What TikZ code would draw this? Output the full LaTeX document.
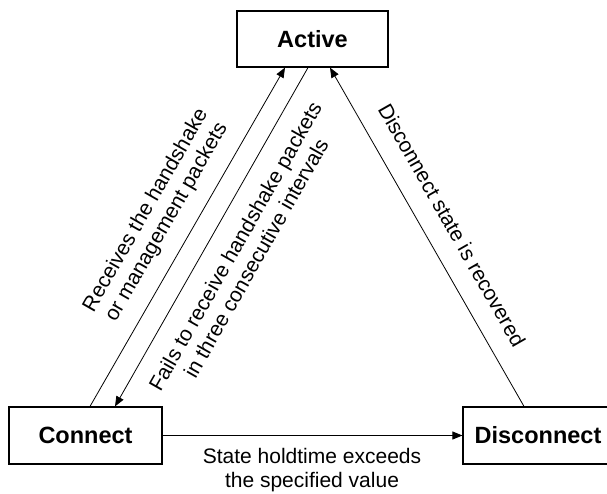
\documentclass[tikz,border=0pt]{standalone}
\usepackage{fontspec}
\setmainfont{Liberation Sans}
\usetikzlibrary{arrows.meta}
\begin{document}
\begin{tikzpicture}[x=1pt,y=-1pt,
  state/.style={draw, line width=1.2pt, inner sep=0pt,
    font=\fontsize{23.5}{28}\selectfont\bfseries},
  trans/.style={line width=0.8pt, -{Triangle[length=10pt,width=8pt]}},
  lbl/.style={align=center, inner sep=0pt, font=\fontsize{21}{24}\selectfont}]
\useasboundingbox (0,0) rectangle (607,493);
\clip (0,0) rectangle (607,493);

% states
\node[state, minimum width=151pt, minimum height=56pt] (active) at (312.5,39) {Active};
\node[state, minimum width=153pt, minimum height=57pt] (connect) at (85.5,435.5) {Connect};
\node[state, minimum width=150pt, minimum height=57pt] (disconnect) at (538,435.5) {Disconnect};

% transitions
\draw[trans] ([xshift=4.5pt]connect.north) -- ([xshift=-27.5pt]active.south);
\draw[trans] ([xshift=-4.5pt]active.south) -- ([xshift=29.5pt]connect.north);
\draw[trans] ([xshift=-14pt]disconnect.north) -- ([xshift=17.5pt]active.south);
\draw[trans] (connect.east) -- (disconnect.west);

% transition labels
\node[lbl, rotate=60.2] (lrecv) at (156.5,216.5) {Receives the handshake\\or management packets};
\node[lbl, rotate=60.4] (lfail) at (245.5,252) {Fails to receive handshake packets\\in three consecutive intervals};
\node[lbl, rotate=-60.3] (lrec) at (452,225) {Disconnect state is recovered};
\node[lbl] (lhold) at (312,470) {State holdtime exceeds\\the specified value};
\end{tikzpicture}
\end{document}
